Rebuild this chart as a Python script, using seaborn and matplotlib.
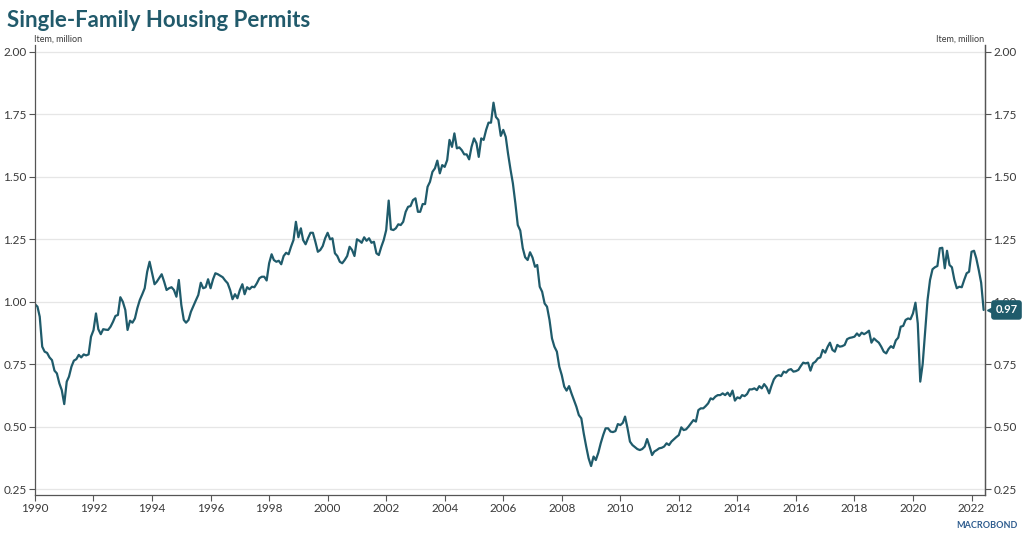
import numpy as np
import pandas as pd
import matplotlib
matplotlib.use("Agg")
import matplotlib.pyplot as plt
import matplotlib.transforms as mtransforms
import seaborn as sns

# ---- data: single-family housing permits, million units (SAAR), monthly ----
v1990 = [0.99, 0.98, 0.94, 0.82, 0.80, 0.795, 0.777, 0.766, 0.724, 0.713, 0.673, 0.646]
v1991 = [0.59, 0.68, 0.70, 0.74, 0.764, 0.77, 0.787, 0.777, 0.789, 0.785, 0.789, 0.86]
v1992 = [0.886, 0.953, 0.89, 0.87, 0.89, 0.888, 0.887, 0.90, 0.92, 0.943, 0.947, 1.018]
v1993 = [1.00, 0.967, 0.887, 0.924, 0.916, 0.933, 0.974, 1.007, 1.03, 1.054, 1.12, 1.16]
v1994 = [1.114, 1.07, 1.08, 1.095, 1.11, 1.08, 1.047, 1.054, 1.058, 1.047, 1.02, 1.087]
v1995 = [0.987, 0.927, 0.916, 0.927, 0.96, 0.983, 1.005, 1.027, 1.076, 1.054, 1.058, 1.09]
v1996 = [1.054, 1.09, 1.114, 1.11, 1.104, 1.098, 1.085, 1.074, 1.047, 1.01, 1.03, 1.014]
v1997 = [1.047, 1.07, 1.03, 1.058, 1.05, 1.06, 1.058, 1.074, 1.094, 1.10, 1.10, 1.085]
v1998 = [1.154, 1.19, 1.167, 1.16, 1.164, 1.15, 1.183, 1.196, 1.19, 1.22, 1.247, 1.32]
v1999 = [1.258, 1.294, 1.247, 1.23, 1.254, 1.276, 1.276, 1.24, 1.20, 1.207, 1.223, 1.254]
v2000 = [1.276, 1.25, 1.254, 1.194, 1.183, 1.16, 1.154, 1.167, 1.183, 1.22, 1.207, 1.183]
v2001 = [1.25, 1.244, 1.236, 1.258, 1.244, 1.254, 1.236, 1.24, 1.194, 1.187, 1.22, 1.247]
v2002 = [1.287, 1.405, 1.29, 1.287, 1.294, 1.31, 1.307, 1.32, 1.36, 1.38, 1.383, 1.407]
v2003 = [1.414, 1.36, 1.36, 1.391, 1.391, 1.46, 1.48, 1.52, 1.534, 1.565, 1.514, 1.547]
v2004 = [1.54, 1.567, 1.648, 1.62, 1.674, 1.614, 1.618, 1.607, 1.59, 1.59, 1.57, 1.62]
v2005 = [1.654, 1.634, 1.58, 1.654, 1.648, 1.688, 1.717, 1.717, 1.797, 1.74, 1.728, 1.664]
v2006 = [1.688, 1.66, 1.594, 1.53, 1.474, 1.394, 1.307, 1.285, 1.215, 1.178, 1.167, 1.198]
v2007 = [1.177, 1.14, 1.147, 1.06, 1.04, 0.993, 0.98, 0.927, 0.853, 0.82, 0.80, 0.74]
v2008 = [0.706, 0.66, 0.644, 0.662, 0.633, 0.606, 0.58, 0.546, 0.533, 0.473, 0.42, 0.373]
v2009 = [0.342, 0.38, 0.366, 0.395, 0.433, 0.466, 0.493, 0.493, 0.48, 0.478, 0.482, 0.51]
v2010 = [0.506, 0.515, 0.54, 0.493, 0.44, 0.426, 0.418, 0.41, 0.406, 0.41, 0.42, 0.45]
v2011 = [0.42, 0.386, 0.40, 0.406, 0.413, 0.415, 0.42, 0.433, 0.426, 0.44, 0.449, 0.458]
v2012 = [0.466, 0.497, 0.486, 0.489, 0.50, 0.513, 0.526, 0.52, 0.566, 0.573, 0.573, 0.582]
v2013 = [0.593, 0.613, 0.609, 0.62, 0.626, 0.626, 0.633, 0.626, 0.636, 0.622, 0.644, 0.604]
v2014 = [0.617, 0.613, 0.626, 0.622, 0.63, 0.649, 0.649, 0.653, 0.646, 0.662, 0.653, 0.67]
v2015 = [0.657, 0.633, 0.662, 0.689, 0.702, 0.706, 0.702, 0.72, 0.716, 0.727, 0.73, 0.72]
v2016 = [0.722, 0.727, 0.742, 0.756, 0.753, 0.756, 0.724, 0.753, 0.76, 0.773, 0.777, 0.807]
v2017 = [0.796, 0.82, 0.836, 0.807, 0.80, 0.827, 0.82, 0.822, 0.827, 0.85, 0.855, 0.857]
v2018 = [0.86, 0.873, 0.863, 0.876, 0.87, 0.876, 0.884, 0.836, 0.853, 0.844, 0.836, 0.82]
v2019 = [0.80, 0.793, 0.81, 0.822, 0.815, 0.845, 0.856, 0.90, 0.903, 0.927, 0.933, 0.93]
v2020 = [0.953, 0.996, 0.913, 0.68, 0.75, 0.88, 1.007, 1.087, 1.13, 1.138, 1.143, 1.214]
v2021 = [1.216, 1.134, 1.204, 1.147, 1.138, 1.087, 1.054, 1.06, 1.058, 1.087, 1.114, 1.12]
v2022 = [1.20, 1.204, 1.174, 1.127, 1.076, 0.967]

values = (v1990 + v1991 + v1992 + v1993 + v1994 + v1995 + v1996 + v1997 + v1998 + v1999
          + v2000 + v2001 + v2002 + v2003 + v2004 + v2005 + v2006 + v2007 + v2008 + v2009
          + v2010 + v2011 + v2012 + v2013 + v2014 + v2015 + v2016 + v2017 + v2018 + v2019
          + v2020 + v2021 + v2022)
dates = pd.date_range("1990-01-01", periods=len(values), freq="MS")

y_ticks = [0.25, 0.50, 0.75, 1.00, 1.25, 1.50, 1.75, 2.00]
x_tick_years = list(range(1990, 2023, 2))
title = "Single-Family Housing Permits"
unit_label = "Item, million"
last_label = "0.97"

df = pd.DataFrame({"date": dates, "permits": values})

LINE = "#1f5b6b"
TITLE_C = "#215a6b"
AXIS_C = "#555555"
TEXT_C = "#3a3a3a"

sns.set_theme(style="white")
plt.rcParams["font.family"] = ["Lato", "DejaVu Sans"]

W, H = 1024, 538
fig = plt.figure(figsize=(W / 100, H / 100), dpi=100)
fig.patch.set_facecolor("white")
ax = fig.add_axes([35 / W, 1 - 495 / H, (985 - 35) / W, (495 - 45) / H])

sns.lineplot(data=df, x="date", y="permits", ax=ax, color=LINE, linewidth=1.6)

ylim = (0.226, 2.028)
ax.set_xlim(pd.Timestamp("1990-01-01"), pd.Timestamp("2022-06-18"))
ax.set_ylim(*ylim)
ax.set_xlabel("")
ax.set_ylabel("")

ax.set_yticks(y_ticks)
ax.set_yticklabels([f"{v:.2f}" for v in y_ticks])
ax.set_xticks(pd.to_datetime([f"{y}-01-01" for y in x_tick_years]))
ax.set_xticklabels([str(y) for y in x_tick_years])

ax.grid(axis="y", color="#e6e6e6", linewidth=0.9)
ax.grid(axis="x", visible=False)
ax.set_axisbelow(True)

for s in ["left", "bottom", "right"]:
    ax.spines[s].set_visible(True)
    ax.spines[s].set_color(AXIS_C)
    ax.spines[s].set_linewidth(0.9)
ax.spines["top"].set_visible(False)

ax.tick_params(axis="both", which="major", direction="out", length=4, width=0.8,
               color=AXIS_C, labelsize=8.5, labelcolor=TEXT_C, pad=2,
               bottom=True, left=True)

ax2 = ax.twinx()
ax2.set_ylim(*ylim)
ax2.set_yticks(y_ticks)
ax2.set_yticklabels([f"{v:.2f}" for v in y_ticks])
ax2.tick_params(axis="y", direction="out", length=4, width=0.8, color=AXIS_C,
                labelsize=8.5, labelcolor=TEXT_C, pad=2)
for s in ["left", "bottom", "top"]:
    ax2.spines[s].set_visible(False)
ax2.spines["right"].set_color(AXIS_C)
ax2.spines["right"].set_linewidth(0.9)
ax2.grid(False)

# title and unit labels
fig.text(7 / W, 1 - 27 / H, title, fontsize=16, fontweight="bold", color=TITLE_C,
         ha="left", va="baseline")
fig.text(34 / W, 1 - 42 / H, unit_label, fontsize=6.5, color=TEXT_C, ha="left", va="baseline")
fig.text(984 / W, 1 - 42 / H, unit_label, fontsize=6.5, color=TEXT_C, ha="right", va="baseline")

# last-value marker label
last_val = values[-1]
trans = mtransforms.blended_transform_factory(ax2.transAxes, ax2.transData)
off = mtransforms.ScaledTranslation(4 / 72, 0, fig.dpi_scale_trans)
ax2.plot([1.0], [last_val], marker="<", markersize=6, color=LINE,
         transform=trans + off, clip_on=False, zorder=10)
ax2.text(1.0, last_val, last_label,
         transform=trans + mtransforms.ScaledTranslation(7.5 / 72, 0, fig.dpi_scale_trans),
         ha="left", va="center", fontsize=8, fontweight="bold", color="white", zorder=11,
         bbox=dict(boxstyle="round,pad=0.32,rounding_size=0.2", facecolor=LINE, edgecolor=LINE))

fig.text(1018 / W, 1 - 526 / H, "MACROBOND", fontsize=6.5, fontweight="bold",
         color="#2f5d8f", ha="right", va="center")

fig.savefig("out.png", dpi=100, facecolor="white")
